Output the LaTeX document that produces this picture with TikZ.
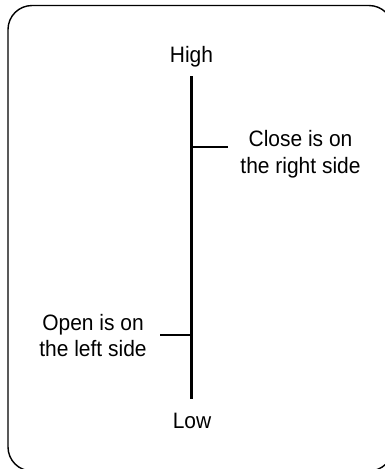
\documentclass[tikz,border=0pt]{standalone}
\usepackage{fontspec}
\setmainfont{Liberation Sans}[FakeStretch=0.94]
\begin{document}
\begin{tikzpicture}[x=1pt,y=-1pt,
  lbl/.style={font=\fontsize{22.3}{26.5}\selectfont, inner sep=0pt, align=center, anchor=base},
  axis/.style={line width=2.6pt},
  frame/.style={line width=1.4pt, rounded corners=24pt}]
\useasboundingbox (0,0) rectangle (385,469);
\draw[frame] (8,5.5) rectangle (393,471);
\node[lbl] (high) at (191.5,62.7) {High};
\node[lbl] (low) at (192,428) {Low};
\node[lbl] (close) at (300.5,173) {Close is on\\the right side};
\node[lbl] (open) at (93,356.5) {Open is on\\the left side};
\coordinate (top) at (191.5,76);
\coordinate (bot) at (191.5,399);
\coordinate (rt) at (191.5,147);
\coordinate (rtend) at (228,147);
\coordinate (lt) at (191.5,335);
\coordinate (ltend) at (160,335);
\draw[axis] (top) -- (bot);
\draw[axis] (rt) -- (rtend);
\draw[axis] (lt) -- (ltend);
\end{tikzpicture}
\end{document}
